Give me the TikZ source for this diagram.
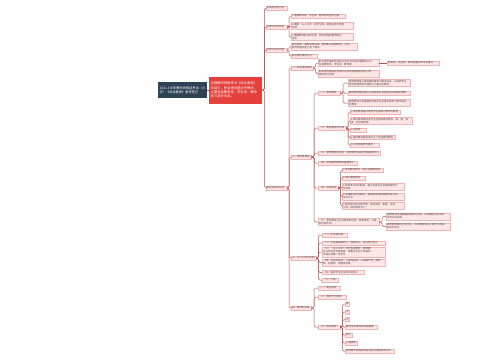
\documentclass[tikz,border=0pt]{standalone}
\usepackage{fontspec}
\newfontfamily\cjk{Noto Sans CJK SC}
\usetikzlibrary{positioning}
\definecolor{rootblue}{HTML}{2E4255}
\definecolor{keyred}{HTML}{E5403B}
\definecolor{topicfill}{HTML}{FCE6E6}
\definecolor{topicline}{HTML}{EEB4B4}
\definecolor{topictext}{HTML}{5A4848}
\definecolor{linkred}{HTML}{B5504E}

\begin{document}
\begin{tikzpicture}[
    x=1pt, y=-1pt,
    rootbox/.style={fill=rootblue, text=white, font=\cjk\fontsize{3.2}{4}\selectfont, align=left, inner sep=1.5pt, text width=46pt, minimum height=16pt, anchor=west},
    keybox/.style={fill=keyred, text=white, font=\cjk\fontsize{3.3}{4.3}\selectfont, align=left, inner sep=1.5pt, text width=50pt, minimum height=27pt, anchor=west},
    topic/.style={fill=topicfill, draw=topicline, line width=0.3pt, text=topictext, font=\cjk\fontsize{2.5}{3}\selectfont, align=left, inner sep=0.9pt, anchor=west},
    tw/.style={text width=#1pt},
    link/.style={draw=linkred, line width=0.5pt, rounded corners=1.5pt}
]
\path[fill=white] (0,0) rectangle (500,360);

% root and summary
\node[rootbox] (root) at (158,90) {2021上半年教师资格证考试（小\\学）《综合素质》备考笔记};
\node[keybox] (key) at (209,90) {全国教师资格考试《综合素质》\\科目中，职业理念是必考模块，\\主要包括教育观、学生观、教师\\观三部分内容。};

% first level
\node[topic, tw=19.5] (exam) at (265.5,8) {考试题型及分值};
\node[topic, tw=19.5] (goal) at (265.5,27) {本部分考试目标};
\node[topic, tw=19.5] (scope) at (265.5,50) {本部分考试内容};
\node[topic, tw=19.5] (point) at (265.5,188) {职业理念知识点};

% goals and scope
\node[topic, tw=52] (goal1) at (291,16) {1.理解教育观、学生观、教师观的基本内涵};
\node[topic, tw=60] (goal2) at (291,26) {2.理解“以人为本”的学生观，能够运用于教育\\实践};
\node[topic, tw=60] (goal3) at (291,37) {3.理解教师职业的价值，形成正确的教师职业\\观念};
\node[topic, tw=64] (scope1) at (291,46.5) {职业理念、教育法律法规、教师职业道德规范、文化\\素养和基本能力五个模块};
\node[topic, tw=24] (scope2) at (291,56) {职业理念模块学习};

% knowledge points
\node[topic, tw=20] (intro) at (291,68) {一、职业理念概述};
\node[topic, tw=18] (edu) at (291,157) {二、素质教育观};
\node[topic, tw=23] (stu) at (291,258) {三、以人为本学生观};
\node[topic, tw=18] (tea) at (291,308) {四、教师职业观};

\node[topic, tw=59] (intro1) at (318,63) {职业理念是教师在职业活动中形成的理解和认识，\\包括教育观、学生观、教师观};
\node[topic, tw=50] (intro1a) at (387,63) {教育观、学生观、教师观是历年考试重点};
\node[topic, tw=59] (intro2) at (318,73.5) {职业理念模块在考试中以单项选择题和材料分析\\题的形式出现};

\node[topic, tw=20] (edu1) at (318,93) {（一）素质教育};
\node[topic, tw=60] (edu1a) at (348,83) {素质教育是以提高国民素质为根本宗旨，以培养学生\\的创新精神和实践能力为重点的教育};
\node[topic, tw=60] (edu1b) at (348,93) {素质教育是依据人的发展和社会发展实际需要的教育};
\node[topic, tw=60] (edu1c) at (348,103) {素质教育以全面提高全体学生的基本素质为根本目的\\的教育};

\node[topic, tw=26] (edu2) at (318,128) {（二）素质教育的内涵};
\node[topic, tw=48] (edu2a) at (350,112) {1.素质教育是以促进学生发展为根本的教育};
\node[topic, tw=60] (edu2b) at (350,121) {2.素质教育是促进学生全面发展的教育，德、智、体\\美、劳全面发展};
\node[topic, tw=14] (edu2c) at (350,130) {3.主体性};
\node[topic, tw=43] (edu2d) at (350,137.5) {4.素质教育是促进学生个性发展的教育};
\node[topic, tw=27] (edu2e) at (350,145) {5.以创新精神为重点};

\node[topic, tw=60] (edu3) at (318,153) {（三）素质教育的目标：培养德智体美劳全面发展的人};
\node[topic, tw=37] (edu4) at (318,163) {（四）实施素质教育的重要意义};

\node[topic, tw=18] (edu5) at (318,188) {（五）实施途径};
\node[topic, tw=39] (edu5a) at (342,170) {1.转变教育观念，树立正确教育观};
\node[topic, tw=21] (edu5b) at (342,178) {2.深化课程改革};
\node[topic, tw=60] (edu5c) at (342,187) {3.改革考试评价制度，建立促进学生全面发展的评\\价体系};
\node[topic, tw=60] (edu5d) at (342,196.5) {4.加强教师队伍建设，提高教师的教育教学能力和\\专业水平};
\node[topic, tw=60] (edu5e) at (342,206) {5.营造良好的社会环境，形成学校、家庭、社会\\三位一体的教育合力};

\node[topic, tw=59] (edu6) at (318,222) {（六）素质教育与应试教育的区别：教育目的、对象\\和内容不同};
\node[topic, tw=62] (edu6a) at (386,216.5) {素质教育以提高国民素质为宗旨，应试教育以应付升\\学考试为目的};
\node[topic, tw=62] (edu6b) at (386,226.5) {素质教育面向全体学生，应试教育面向少数学习成绩\\较好的学生};

\node[topic, tw=23] (stu1) at (322,235) {（一）学生观内涵};
\node[topic, tw=61] (stu2) at (322,243) {（二）学生是发展的人、独特的人、独立意义的人};
\node[topic, tw=61] (stu3) at (322,252) {（三）“以人为本”的学生观要求：教师要\\关注学生的全面发展，尊重学生的个体差异，\\平等对待每一位学生};
\node[topic, tw=61] (stu4) at (322,262.5) {（四）学生的权利：人身自由权、人格尊严权、隐私\\权、名誉权、受教育权等};
\node[topic, tw=40] (stu5) at (322,272.5) {（五）保护学生合法权利的意义};
\node[topic, tw=14] (stu6) at (322,280) {（六）小结};

\node[topic, tw=20] (tea1) at (318,288) {（一）角色转变};
\node[topic, tw=26] (tea2) at (318,297) {（二）教育行为转变};
\node[topic, tw=20] (tea3) at (318,327) {（三）职业素养};
\node[topic] (tea3a) at (345,304) {德};
\node[topic] (tea3b) at (345,312) {才};
\node[topic] (tea3c) at (345,319.5) {识};
\node[topic, tw=30] (tea3d) at (345,327) {教师专业素养的构成要素};
\node[topic] (tea3e) at (345,335) {能力};
\node[topic] (tea3f) at (345,343) {心理素质};
\node[topic, tw=47] (tea3g) at (345,351) {教师要不断提高自身的职业道德修养水平};

% connectors
\draw[link] (root.east) -- (key.west);
\foreach \c in {exam,goal,scope,point}
    \draw[link] (key.east) -- ++(2,0) |- (\c.west);
\foreach \c in {goal1,goal2,goal3}
    \draw[link] (goal.east) -- ++(2,0) |- (\c.west);
\foreach \c in {scope1,scope2}
    \draw[link] (scope.east) -- ++(2,0) |- (\c.west);
\foreach \c in {intro,edu,stu,tea}
    \draw[link] (point.east) -- ++(2,0) |- (\c.west);
\foreach \c in {intro1,intro2}
    \draw[link] (intro.east) -- ++(2.5,0) |- (\c.west);
\draw[link] (intro1.east) -- (intro1a.west);
\foreach \c in {edu1,edu2,edu3,edu4,edu5,edu6}
    \draw[link] (edu.east) -- ++(3,0) |- (\c.west);
\foreach \c in {edu1a,edu1b,edu1c}
    \draw[link] (edu1.east) -- ++(3,0) |- (\c.west);
\foreach \c in {edu2a,edu2b,edu2c,edu2d,edu2e}
    \draw[link] (edu2.east) -- ++(2,0) |- (\c.west);
\foreach \c in {edu5a,edu5b,edu5c,edu5d,edu5e}
    \draw[link] (edu5.east) -- ++(2.5,0) |- (\c.west);
\foreach \c in {edu6a,edu6b}
    \draw[link] (edu6.east) -- ++(3,0) |- (\c.west);
\foreach \c in {stu1,stu2,stu3,stu4,stu5,stu6}
    \draw[link] (stu.east) -- ++(2.5,0) |- (\c.west);
\foreach \c in {tea1,tea2,tea3}
    \draw[link] (tea.east) -- ++(3,0) |- (\c.west);
\foreach \c in {tea3a,tea3b,tea3c,tea3d,tea3e,tea3f,tea3g}
    \draw[link] (tea3.east) -- ++(2.5,0) |- (\c.west);
\end{tikzpicture}
\end{document}
